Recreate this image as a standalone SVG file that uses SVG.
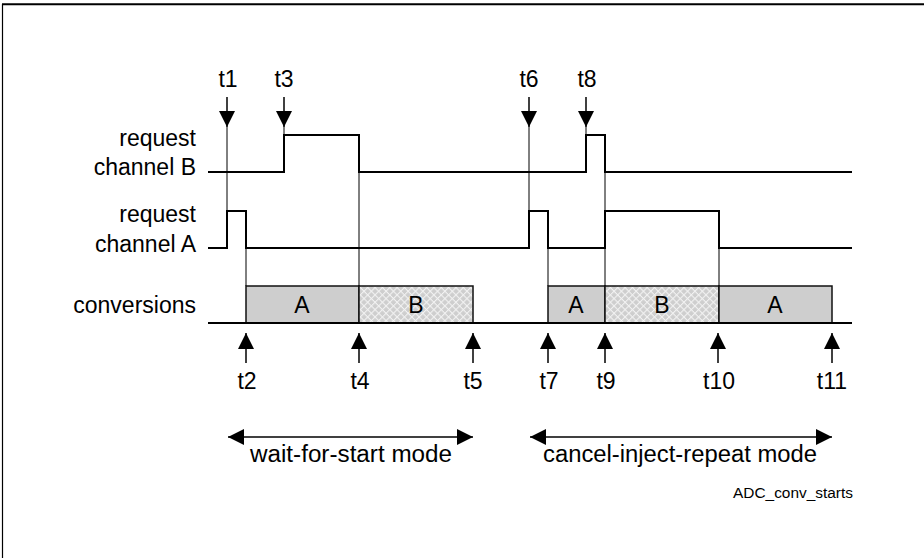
<svg xmlns="http://www.w3.org/2000/svg" width="924" height="558" viewBox="0 0 924 558">
<style>
text{font-family:"Liberation Sans",Arial,sans-serif;fill:#000}
.lbl{font-size:23px}
.lft{font-size:23px;text-anchor:end}
.mid{text-anchor:middle}
.wave{fill:none;stroke:#000;stroke-width:2}
.guide{fill:none;stroke:#000;stroke-width:1}
.arr{fill:none;stroke:#000;stroke-width:1.5}
.boxA{fill:#cecece;stroke:#111;stroke-width:1.5}
.boxB{fill:url(#hatch);stroke:#111;stroke-width:1.5}
</style>
<defs>
<pattern id="hatch" width="5.2" height="5.2" patternUnits="userSpaceOnUse" patternTransform="rotate(45)">
<rect width="5.2" height="5.2" fill="#cecece"/>
<path d="M0,0.5H5.2M0.5,0V5.2" stroke="#f2f2f2" stroke-width="1.2"/>
</pattern>
<marker id="head" viewBox="0 0 16 16" refX="16" refY="8" markerWidth="16" markerHeight="16" markerUnits="userSpaceOnUse" orient="auto-start-reverse">
<path d="M0,0L16,8L0,16Z" fill="#000"/>
</marker>
</defs>
<g id="frame">
<line x1="2" y1="4.3" x2="924" y2="4.3" stroke="#000" stroke-width="2"/>
<line x1="2.5" y1="4" x2="2.5" y2="558" stroke="#000" stroke-width="1.2"/>
</g>
<g id="signal-labels">
<text class="lft" x="196" y="146">request</text>
<text class="lft" x="196" y="175">channel B</text>
<text class="lft" x="196" y="222">request</text>
<text class="lft" x="196" y="252">channel A</text>
<text class="lft" x="196" y="313">conversions</text>
</g>
<g id="conversions">
<rect class="boxA" x="246" y="286" width="113" height="37"/>
<rect class="boxB" x="359" y="286" width="114" height="37"/>
<rect class="boxA" x="548" y="286" width="57" height="37"/>
<rect class="boxB" x="605" y="286" width="114" height="37"/>
<rect class="boxA" x="719" y="286" width="113" height="37"/>
<g class="lbl mid">
<text x="302" y="313">A</text>
<text x="416" y="313">B</text>
<text x="576" y="313">A</text>
<text x="662" y="313">B</text>
<text x="775" y="313">A</text>
</g>
</g>
<g id="connectors">
<path class="guide" d="M227,127V211M246,248V286M359,172V286M284,127V135M529,127V211M548,248V286M586,127V135M605,172V211M605,248V286M719,248V286"/>
<path class="wave" d="M208,172H284V135H359V172H586V135H605V172H852"/>
<path class="wave" d="M208,248H227V211H246V248H529V211H548V248H605V211H719V248H852"/>
<path class="wave" d="M208,323H852"/>
<g class="arr" marker-end="url(#head)">
<line x1="227" y1="97" x2="227" y2="127"/>
<line x1="284" y1="97" x2="284" y2="127"/>
<line x1="529" y1="97" x2="529" y2="127"/>
<line x1="586" y1="97" x2="586" y2="127"/>
<line x1="246" y1="363" x2="246" y2="333"/>
<line x1="359" y1="363" x2="359" y2="333"/>
<line x1="473" y1="363" x2="473" y2="333"/>
<line x1="548" y1="363" x2="548" y2="333"/>
<line x1="605" y1="363" x2="605" y2="333"/>
<line x1="718" y1="363" x2="718" y2="333"/>
<line x1="832" y1="363" x2="832" y2="333"/>
</g>
<line class="arr" x1="228" y1="437" x2="473" y2="437" marker-end="url(#head)" marker-start="url(#head)"/>
<line class="arr" x1="530" y1="437" x2="832" y2="437" marker-end="url(#head)" marker-start="url(#head)"/>
</g>
<g id="time-labels" class="lbl mid">
<text x="228" y="87">t1</text>
<text x="284" y="87">t3</text>
<text x="529" y="87">t6</text>
<text x="587" y="87">t8</text>
<text x="247" y="389">t2</text>
<text x="360" y="389">t4</text>
<text x="473" y="389">t5</text>
<text x="549" y="389">t7</text>
<text x="606" y="389">t9</text>
<text x="719" y="389">t10</text>
<text x="832" y="389">t11</text>
</g>
<g id="mode-labels" class="lbl mid">
<text x="351" y="462" textLength="202" lengthAdjust="spacingAndGlyphs">wait-for-start mode</text>
<text x="680" y="462" textLength="274" lengthAdjust="spacingAndGlyphs">cancel-inject-repeat mode</text>
</g>
<text id="caption" x="853" y="498" font-size="14" text-anchor="end" textLength="120" lengthAdjust="spacingAndGlyphs">ADC_conv_starts</text>
</svg>
